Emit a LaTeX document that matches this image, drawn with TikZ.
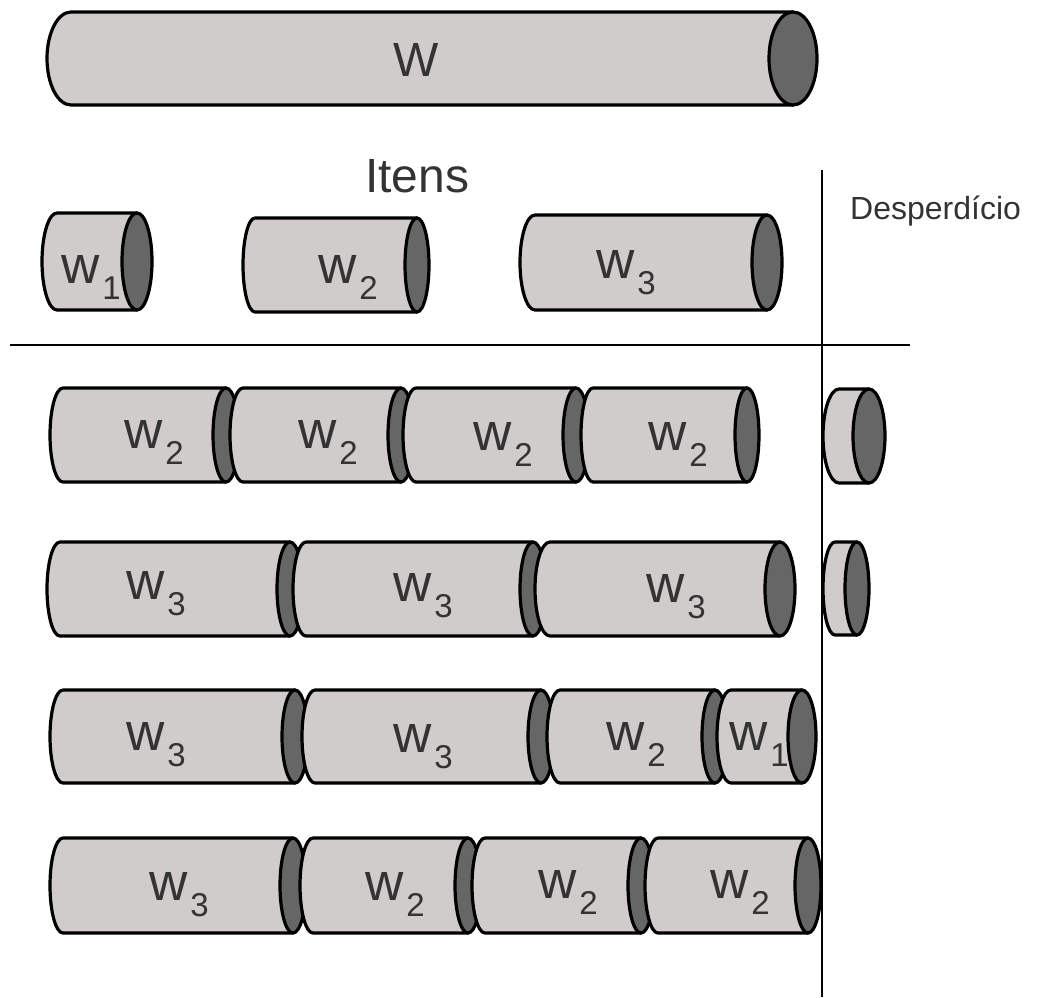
\documentclass[tikz,border=0pt]{standalone}
\usepackage{fontspec}
\setmainfont{Liberation Sans}
\definecolor{rollgray}{HTML}{CFCCCB}
\definecolor{endgray}{HTML}{666666}
\definecolor{ink}{HTML}{333333}
\tikzset{
  rollbody/.style={fill=rollgray, draw=black, line width=3.2pt, line join=round},
  rollend/.style={fill=endgray, draw=black, line width=3.2pt},
  lbl/.style={anchor=base west, inner sep=0pt, text=ink, font=\fontsize{53}{53}\selectfont},
  heading/.style={anchor=base west, inner sep=0pt, text=ink, font=\fontsize{48}{48}\selectfont},
  cutline/.style={draw=black, line width=2.4pt}
}
% roll: body start x, end centre x, centre y, half height, end radius
\newcommand{\roll}[5]{%
  \filldraw[rollbody] (#2,#3+#4) -- (#1,#3+#4) arc[start angle=90, end angle=270, x radius=#5, y radius=#4] -- (#2,#3-#4) -- cycle;
  \filldraw[rollend] (#2,#3) ellipse[x radius=#5, y radius=#4];
}
\newcommand{\wsub}[1]{w\kern3pt\raisebox{-16pt}{\fontsize{33}{33}\selectfont #1}}
\begin{document}
\begin{tikzpicture}[x=1pt, y=1pt]
\useasboundingbox (0,0) rectangle (1038,-997);

% stock roll and items
\roll{71}{793}{-58.5}{46.5}{24}
\roll{57}{137}{-261.5}{48.5}{15}
\roll{255}{417}{-265}{47}{12}
\roll{535}{767}{-262.5}{47.5}{15}

% cutting patterns
\roll{63}{226}{-435}{47}{13}
\roll{243}{401}{-435}{47}{13}
\roll{416}{576}{-435}{47}{13}
\roll{593}{747}{-435}{47}{12}
\roll{839}{869}{-436}{47}{16}

\roll{60}{290}{-589}{47}{13}
\roll{306}{533}{-589}{47}{13}
\roll{550}{780}{-589}{47}{15}
\roll{835}{857}{-588.5}{46.5}{12}

\roll{63}{295}{-736.5}{46.5}{13}
\roll{315}{541}{-736.5}{46.5}{13}
\roll{560}{715}{-736.5}{46.5}{13}
\roll{731}{802}{-736.5}{46.5}{14}

\roll{63}{293}{-885.5}{47.5}{13}
\roll{313}{468}{-885.5}{47.5}{13}
\roll{485}{641}{-885.5}{47.5}{13}
\roll{658}{808}{-885.5}{47.5}{13}

\draw[cutline] (10,-345) -- (910,-345);
\draw[cutline] (822,-170) -- (822,-997);

\node[heading] (stock) at (393,-76) {W};
\node[heading] (itens) at (365,-192) {Itens};
\node[heading, font=\fontsize{32}{32}\selectfont] (waste) at (850,-219) {Desperdício};

\node[lbl] (i1) at (61,-283) {\wsub{1}};
\node[lbl] (i2) at (318,-283) {\wsub{2}};
\node[lbl] (i3) at (596,-278) {\wsub{3}};

\node[lbl] (a1) at (124,-448) {\wsub{2}};
\node[lbl] (a2) at (298,-448) {\wsub{2}};
\node[lbl] (a3) at (473,-450) {\wsub{2}};
\node[lbl] (a4) at (648,-450) {\wsub{2}};

\node[lbl] (b1) at (126,-599) {\wsub{3}};
\node[lbl] (b2) at (393,-601) {\wsub{3}};
\node[lbl] (b3) at (646,-602) {\wsub{3}};

\node[lbl] (c1) at (126,-750) {\wsub{3}};
\node[lbl] (c2) at (393,-752) {\wsub{3}};
\node[lbl] (c3) at (606,-750) {\wsub{2}};
\node[lbl] (c4) at (729,-750) {\wsub{1}};

\node[lbl] (d1) at (149,-900) {\wsub{3}};
\node[lbl] (d2) at (365,-900) {\wsub{2}};
\node[lbl] (d3) at (538,-898) {\wsub{2}};
\node[lbl] (d4) at (710,-898) {\wsub{2}};
\end{tikzpicture}
\end{document}
